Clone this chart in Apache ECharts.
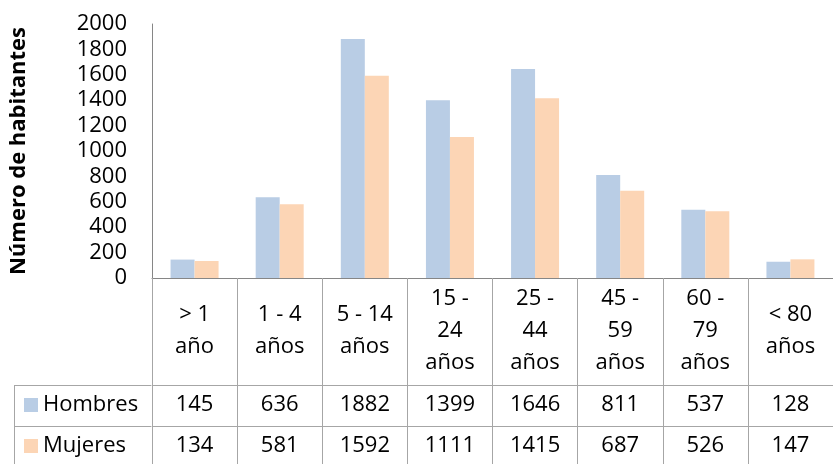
<!DOCTYPE html>
<html>
<head>
<meta charset="utf-8">
<script src="https://cdn.jsdelivr.net/npm/echarts@6/dist/echarts.min.js"></script>
<style>
html,body{margin:0;padding:0;background:#fff;}
#c{width:833px;height:464px;}
</style>
</head>
<body>
<div id="c"></div>
<script>
const categories = ['> 1\naño', '1 - 4\naños', '5 - 14\naños', '15 -\n24\naños', '25 -\n44\naños', '45 -\n59\naños', '60 -\n79\naños', '< 80\naños'];
const hombres = [145, 636, 1882, 1399, 1646, 811, 537, 128];
const mujeres = [134, 581, 1592, 1111, 1415, 687, 526, 147];
const seriesNames = ['Hombres', 'Mujeres'];
const yTitle = 'Número de habitantes';

const FONT = '"Open Sans", sans-serif';
const TXT = '#000';
const GRID_LINE = '#A6A6A6';

const chart = echarts.init(document.getElementById('c'), null, {renderer: 'canvas'});

const gridTop = 24, gridBottom = 186, gridLeft = 151;
const row1 = 107, row2 = 148;

const option = {
  animation: false,
  textStyle: {fontFamily: FONT},
  grid: {left: gridLeft, right: -1, top: gridTop, bottom: gridBottom, containLabel: false},
  legend: {
    orient: 'vertical', left: 24, top: 394, padding: 0,
    itemWidth: 14, itemHeight: 14, itemGap: 19,
    icon: 'rect',
    textStyle: {fontSize: 22, lineHeight: 22, color: TXT, fontFamily: FONT},
    data: seriesNames
  },
  xAxis: [
    {
      type: 'category', data: categories, position: 'bottom',
      axisLine: {show: true, lineStyle: {color: '#868686', width: 1}},
      axisTick: {show: true, length: 186, interval: 0, lineStyle: {color: GRID_LINE}},
      axisLabel: {interval: 0, margin: 53, verticalAlign: 'middle', lineHeight: 32, fontSize: 22, color: TXT, fontFamily: FONT}
    },
    {
      type: 'category', data: categories, position: 'bottom', offset: row1,
      axisLine: {show: true, lineStyle: {color: GRID_LINE}},
      axisTick: {show: false},
      axisLabel: {interval: 0, margin: 20, verticalAlign: 'middle', fontSize: 22, color: TXT, fontFamily: FONT,
        formatter: (v, i) => String(hombres[i])}
    },
    {
      type: 'category', data: categories, position: 'bottom', offset: row2,
      axisLine: {show: true, lineStyle: {color: GRID_LINE}},
      axisTick: {show: false},
      axisLabel: {interval: 0, margin: 20, verticalAlign: 'middle', fontSize: 22, color: TXT, fontFamily: FONT,
        formatter: (v, i) => String(mujeres[i])}
    }
  ],
  yAxis: {
    type: 'value', min: 0, max: 2000, interval: 200,
    name: yTitle, nameLocation: 'middle', nameGap: 122, nameRotate: 90,
    nameTextStyle: {fontSize: 22, fontWeight: 'bold', color: TXT, fontFamily: FONT},
    axisLine: {show: true, lineStyle: {color: '#868686'}},
    axisTick: {show: false},
    splitLine: {show: false},
    axisLabel: {margin: 25, fontSize: 22, color: TXT, fontFamily: FONT, formatter: v => String(v)}
  },
  series: [
    {name: seriesNames[0], type: 'bar', data: hombres, barWidth: 24, barGap: '0%',
     itemStyle: {color: '#B9CDE5'}},
    {name: seriesNames[1], type: 'bar', data: mujeres, barWidth: 24, barGap: '0%',
     itemStyle: {color: '#FCD5B5'}}
  ],
  graphic: [
    {type: 'line', shape: {x1: 14, y1: 464 - gridBottom + row1 + 0.5, x2: gridLeft, y2: 464 - gridBottom + row1 + 0.5}, style: {stroke: GRID_LINE, lineWidth: 1}},
    {type: 'line', shape: {x1: 14, y1: 464 - gridBottom + row2 + 0.5, x2: gridLeft, y2: 464 - gridBottom + row2 + 0.5}, style: {stroke: GRID_LINE, lineWidth: 1}},
    {type: 'line', shape: {x1: 14.5, y1: 464 - gridBottom + row1, x2: 14.5, y2: 464}, style: {stroke: GRID_LINE, lineWidth: 1}}
  ]
};
chart.setOption(option);
</script>
</body>
</html>
